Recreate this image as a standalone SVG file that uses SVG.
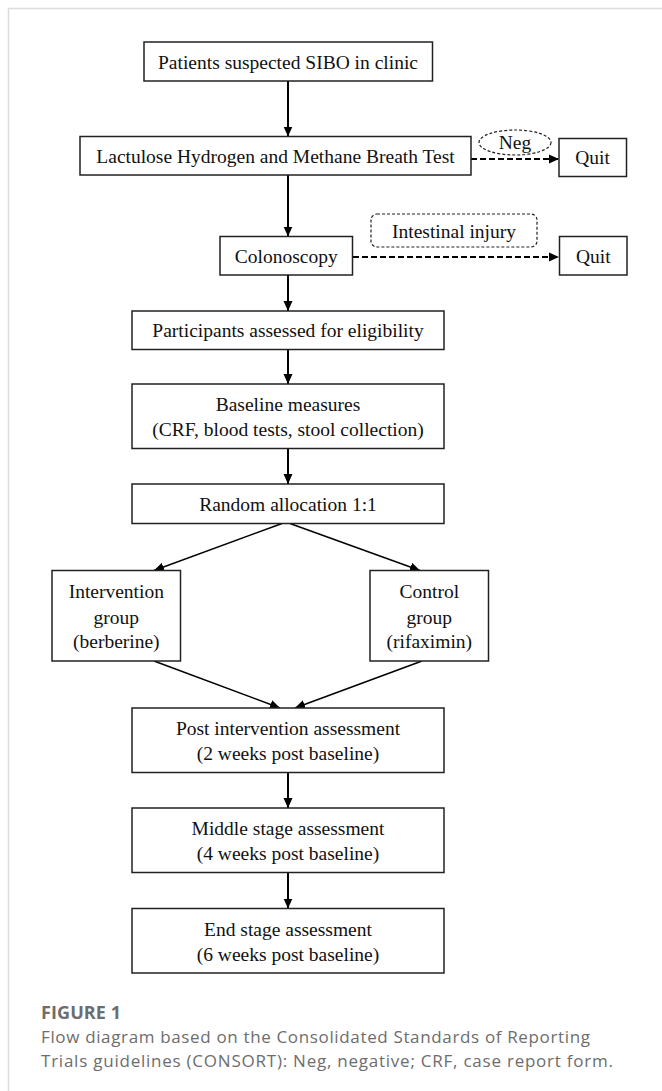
<svg xmlns="http://www.w3.org/2000/svg" width="662" height="1091" viewBox="0 0 662 1091">
<style>
.box{fill:#fff;stroke:#222;stroke-width:1.5}
.t{font-family:"Liberation Serif","Times New Roman",serif;font-size:19.5px;fill:#111;text-anchor:middle}
.ar{stroke:#000;stroke-width:2;fill:none;marker-end:url(#ah)}
.ad{stroke:#000;stroke-width:2;fill:none;stroke-dasharray:6 3;marker-end:url(#ah)}
.dl{fill:#fff;stroke:#222;stroke-width:1.2;stroke-dasharray:3 2}
.cap{font-family:"Open Sans",Lato,"Liberation Sans",sans-serif;fill:#6d6d6d}
</style>
<defs>
<marker id="ah" viewBox="0 0 10 10" refX="10" refY="5" markerWidth="10" markerHeight="10" markerUnits="userSpaceOnUse" orient="auto">
<path d="M0,0.5 L10,5 L0,9.5 z" fill="#000"/>
</marker>
</defs>
<rect width="662" height="1091" fill="#fff"/>
<path d="M8.5,1091 V8.5 H662" fill="none" stroke="#dcdcdc" stroke-width="1.5"/>

<g id="connectors">
<line class="ar" x1="288" y1="81" x2="288" y2="136.5"/>
<line class="ar" x1="288" y1="175" x2="288" y2="236.5"/>
<line class="ar" x1="288" y1="275" x2="288" y2="311"/>
<line class="ar" x1="288" y1="349.5" x2="288" y2="384"/>
<line class="ar" x1="288" y1="448.5" x2="288" y2="484"/>
<line class="ar" x1="282" y1="523.5" x2="154" y2="570.5" style="stroke-width:1.5"/>
<line class="ar" x1="290" y1="523.5" x2="420" y2="570.5" style="stroke-width:1.5"/>
<line class="ar" x1="154" y1="661" x2="280" y2="708" style="stroke-width:1.5"/>
<line class="ar" x1="422" y1="661" x2="295" y2="708" style="stroke-width:1.5"/>
<line class="ar" x1="288" y1="772.5" x2="288" y2="808"/>
<line class="ar" x1="288" y1="872.5" x2="288" y2="908.5"/>
<line class="ad" x1="471" y1="159" x2="559" y2="159"/>
<line class="ad" x1="353" y1="257" x2="559" y2="257"/>
</g>

<g id="n-patients"><rect class="box" x="144" y="42" width="288.5" height="39"/><text class="t" x="288" y="68.5">Patients suspected SIBO in clinic</text></g>
<g id="n-breath"><rect class="box" x="80" y="136.5" width="391" height="38.5"/><text class="t" x="275.5" y="162.5">Lactulose Hydrogen and Methane Breath Test</text></g>
<g id="n-neg"><ellipse class="dl" cx="515" cy="142.5" rx="36" ry="12.5"/><text class="t" x="515" y="149">Neg</text></g>
<g id="n-quit1"><rect class="box" x="559" y="138.5" width="67.5" height="38"/><text class="t" x="592.5" y="164">Quit</text></g>
<g id="n-colon"><rect class="box" x="220" y="236.5" width="132.5" height="38.5"/><text class="t" x="286.3" y="262.5">Colonoscopy</text></g>
<g id="n-injury"><rect class="dl" x="371" y="214" width="166" height="33" rx="6"/><text class="t" x="454" y="237.5">Intestinal injury</text></g>
<g id="n-quit2"><rect class="box" x="559.5" y="236.5" width="67.5" height="38.5"/><text class="t" x="593.3" y="262.5">Quit</text></g>
<g id="n-eligible"><rect class="box" x="132" y="311" width="312" height="38.5"/><text class="t" x="288" y="337">Participants assessed for eligibility</text></g>
<g id="n-baseline"><rect class="box" x="132" y="384" width="312" height="64.5"/><text class="t" x="288" y="411">Baseline measures</text><text class="t" x="288" y="435.5">(CRF, blood tests, stool collection)</text></g>
<g id="n-random"><rect class="box" x="132" y="484" width="312" height="39.5"/><text class="t" x="288" y="510.5">Random allocation 1:1</text></g>
<g id="n-intervention"><rect class="box" x="52" y="570.5" width="128.5" height="90.5"/><text class="t" x="116.3" y="598">Intervention</text><text class="t" x="116.3" y="623.5">group</text><text class="t" x="116.3" y="648">(berberine)</text></g>
<g id="n-control"><rect class="box" x="370" y="570.5" width="118.5" height="90.5"/><text class="t" x="429.3" y="598">Control</text><text class="t" x="429.3" y="623.5">group</text><text class="t" x="429.3" y="648">(rifaximin)</text></g>
<g id="n-post"><rect class="box" x="132" y="708" width="312" height="64.5"/><text class="t" x="288" y="735">Post intervention assessment</text><text class="t" x="288" y="760">(2 weeks post baseline)</text></g>
<g id="n-middle"><rect class="box" x="132" y="808" width="312" height="64.5"/><text class="t" x="288" y="835">Middle stage assessment</text><text class="t" x="288" y="860">(4 weeks post baseline)</text></g>
<g id="n-end"><rect class="box" x="132" y="908.5" width="312" height="64.5"/><text class="t" x="288" y="935.5">End stage assessment</text><text class="t" x="288" y="960.5">(6 weeks post baseline)</text></g>

<g id="caption">
<text class="cap" x="41" y="1019" font-size="18" font-weight="bold" textLength="80">FIGURE 1</text>
<text class="cap" x="41" y="1043" font-size="17" textLength="549">Flow diagram based on the Consolidated Standards of Reporting</text>
<text class="cap" x="41" y="1067" font-size="17" textLength="572">Trials guidelines (CONSORT): Neg, negative; CRF, case report form.</text>
</g>
</svg>
